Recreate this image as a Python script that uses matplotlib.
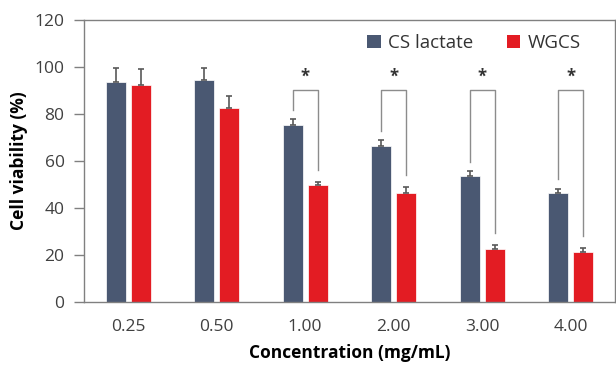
import matplotlib
matplotlib.use("Agg")
import matplotlib.pyplot as plt
import numpy as np

categories = ["0.25", "0.50", "1.00", "2.00", "3.00", "4.00"]
cs_lactate = [93.8, 94.6, 75.2, 66.2, 53.8, 46.5]
cs_err = [5.6, 5.0, 2.7, 2.6, 1.9, 1.7]
wgcs = [92.2, 82.7, 49.8, 46.4, 22.4, 21.3]
wgcs_err = [6.8, 5.1, 1.4, 2.7, 2.0, 1.6]
sig_groups = [2, 3, 4, 5]
bracket_top = 90.2
star_y = 92.0

plt.rcParams['font.family'] = ['Open Sans', 'DejaVu Sans']

fig = plt.figure(figsize=(6.16, 3.65), dpi=100)
ax = fig.add_axes([0.1364, 0.1726, 0.998 - 0.1364, 0.945 - 0.1726])

x = np.arange(len(categories)) + 0.5
w = 0.226
off = 0.141
blue = '#4a5872'
red = '#e31c23'

ax.bar(x - off, cs_lactate, w, color=blue, edgecolor='white', linewidth=0.5, label='CS lactate', zorder=2)
ax.bar(x + off, wgcs, w, color=red, edgecolor='white', linewidth=0.5, label='WGCS', zorder=2)
ax.errorbar(x - off, cs_lactate, yerr=[np.zeros(len(cs_err)), cs_err], fmt='none',
            ecolor='#595959', elinewidth=1.2, capsize=2.5, capthick=1.2, zorder=3)
ax.errorbar(x + off, wgcs, yerr=[np.zeros(len(wgcs_err)), wgcs_err], fmt='none',
            ecolor='#595959', elinewidth=1.2, capsize=2.5, capthick=1.2, zorder=3)

for i in sig_groups:
    l_bot = cs_lactate[i] + cs_err[i] + 4
    r_bot = wgcs[i] + wgcs_err[i] + 5
    ax.plot([x[i] - off, x[i] - off, x[i] + off, x[i] + off],
            [l_bot, bracket_top, bracket_top, r_bot], color='#8c8c8c', lw=1.0, zorder=3)
    ax.text(x[i], star_y, '*', ha='center', va='bottom', fontsize=12, color='#333333',
            fontweight='bold')

ax.set_xlim(0, 6)
ax.set_ylim(0, 120)
ax.set_yticks(np.arange(0, 121, 20))
ax.set_xticks(x)
ax.set_xticklabels(categories)
ax.tick_params(axis='y', direction='out', length=7, width=1, color='#808080',
               labelsize=12.5, labelcolor='#404040', pad=7)
ax.tick_params(axis='x', length=0, labelsize=12.5, labelcolor='#404040', pad=12)
for s in ax.spines.values():
    s.set_color('#808080')
    s.set_linewidth(1.0)

ax.set_ylabel('Cell viability (%)', fontsize=12.5, fontweight='bold', color='black', labelpad=5)
ax.set_xlabel('Concentration (mg/mL)', fontsize=12.5, fontweight='bold', color='black', labelpad=7)

leg = ax.legend(loc='center', bbox_to_anchor=(0.735, 0.918), ncol=2, frameon=False,
                fontsize=13.5, handlelength=0.7, handleheight=0.7, handletextpad=0.4,
                columnspacing=1.8, labelcolor='#333333')
for h in leg.legend_handles:
    h.set_edgecolor('none')

fig.savefig('out.png', dpi=100)
